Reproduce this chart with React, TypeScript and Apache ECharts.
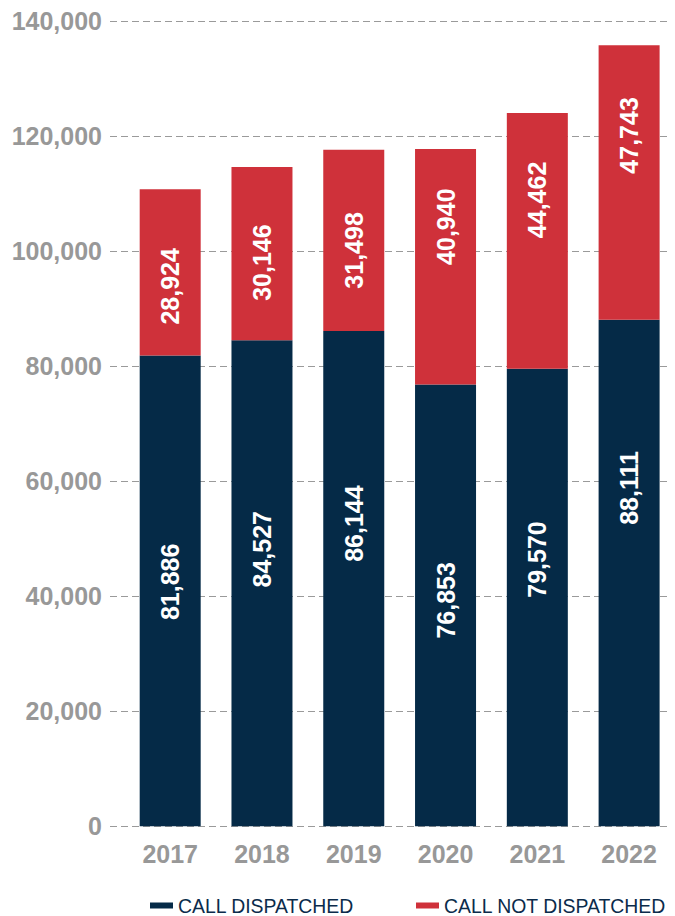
import React, { useEffect, useRef } from "react";
import * as echarts from "echarts";

const categories = ["2017", "2018", "2019", "2020", "2021", "2022"];
const dispatched = [81886, 84527, 86144, 76853, 79570, 88111];
const notDispatched = [28924, 30146, 31498, 40940, 44462, 47743];
const seriesNames = ["CALL DISPATCHED", "CALL NOT DISPATCHED"];
const yTicks = { min: 0, max: 140000, interval: 20000 };

// label placement tweaks (screen px, positive = down), styling only
const dispatchedLabelShift = [-9, -34, -55, -5, -38, -85];
const notDispatchedLabelShift = [14, 9, 10, -40, -41, -47];

const NAVY = "#052a47";
const RED = "#cf313a";
const GRAY = "#989898";
const FONT = "'Liberation Sans', Arial, Helvetica, sans-serif";

const fmt = (v: number) => Number(v).toLocaleString("en-US");

export default function App() {
  const ref = useRef<HTMLDivElement>(null);
  useEffect(() => {
    document.body.style.margin = "0";
    if (!ref.current) return;
    const chart = echarts.init(ref.current, undefined, { renderer: "svg" });
    const top = 21.3;
    const height = 805;
    const labelBase = {
      show: true,
      position: "inside",
      rotate: 90,
      color: "#ffffff",
      fontSize: 25,
      fontWeight: "bold",
      fontFamily: FONT,
      formatter: (p: any) => fmt(p.value),
    };
    const mk = (vals: number[], shifts: number[]) =>
      vals.map((v, i) => ({
        value: v,
        label: { offset: [-shifts[i], 0] },
      }));
    chart.setOption({
      animation: false,
      textStyle: { fontFamily: FONT },
      grid: [
        { left: 110, width: 560, top, height, containLabel: false },
        { left: 124.3, width: 554.4, top, height, containLabel: false },
      ],
      xAxis: [
        { gridIndex: 0, type: "category", data: categories, show: false },
        {
          gridIndex: 1,
          type: "category",
          data: categories,
          axisLine: { show: false },
          axisTick: { show: false },
          axisLabel: {
            color: GRAY,
            fontSize: 25,
            fontWeight: "bold",
            fontFamily: FONT,
            margin: 15,
          },
        },
      ],
      yAxis: [
        {
          gridIndex: 0,
          type: "value",
          min: yTicks.min,
          max: yTicks.max,
          interval: yTicks.interval,
          axisLine: { show: false },
          axisTick: { show: false },
          axisLabel: {
            color: GRAY,
            fontSize: 25,
            fontWeight: "bold",
            fontFamily: FONT,
            margin: 8,
            formatter: (v: number) => fmt(v),
          },
          splitLine: {
            show: true,
            lineStyle: { color: "#9a9a9a", width: 1, type: [7, 4] },
          },
        },
        {
          gridIndex: 1,
          type: "value",
          min: yTicks.min,
          max: yTicks.max,
          interval: yTicks.interval,
          show: false,
          splitLine: { show: false },
        },
      ],
      legend: {
        left: 145,
        top: 891,
        icon: "rect",
        itemWidth: 23,
        itemHeight: 6,
        itemGap: 62,
        data: seriesNames,
        textStyle: {
          color: "#0b2b4b",
          fontSize: 19.4,
          fontFamily: FONT,
        },
      },
      series: [
        {
          name: seriesNames[0],
          type: "bar",
          stack: "total",
          xAxisIndex: 1,
          yAxisIndex: 1,
          barWidth: 61,
          itemStyle: { color: NAVY },
          label: labelBase,
          data: mk(dispatched, dispatchedLabelShift),
        },
        {
          name: seriesNames[1],
          type: "bar",
          stack: "total",
          xAxisIndex: 1,
          yAxisIndex: 1,
          barWidth: 61,
          itemStyle: { color: RED },
          label: labelBase,
          data: mk(notDispatched, notDispatchedLabelShift),
        },
      ],
    });
    return () => chart.dispose();
  }, []);
  return <div ref={ref} style={{ width: 675, height: 916 }} />;
}
